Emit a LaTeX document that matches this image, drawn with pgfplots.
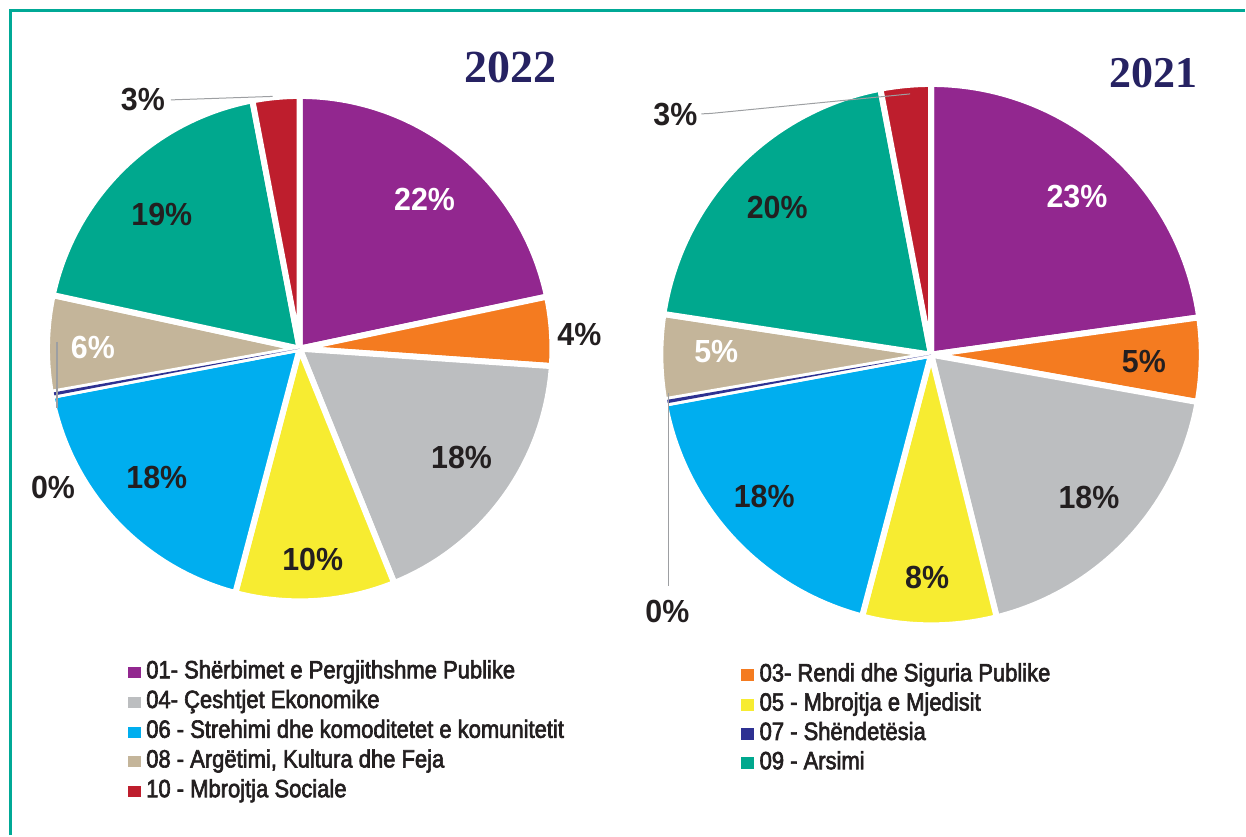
\documentclass[border=0pt]{standalone}
\usepackage{pgfplots}
\usepackage{pgfplotstable}
\pgfplotsset{compat=1.18}
\usepackage{fontspec}
\setmainfont{Liberation Sans}
\newfontfamily\legfont{Liberation Sans}[FakeStretch=0.88, FakeBold=2.5]
\newfontfamily\pctfont{Liberation Sans}[FakeStretch=0.95]
\newfontfamily\titfont{Liberation Serif}

\definecolor{cPurple}{RGB}{146,39,143}
\definecolor{cOrange}{RGB}{244,123,32}
\definecolor{cGray}{RGB}{188,190,192}
\definecolor{cYellow}{RGB}{247,236,49}
\definecolor{cBlue}{RGB}{0,174,239}
\definecolor{cNavy}{RGB}{46,49,146}
\definecolor{cTan}{RGB}{196,181,154}
\definecolor{cTeal}{RGB}{0,168,142}
\definecolor{cRed}{RGB}{190,30,45}
\definecolor{cBorder}{RGB}{0,169,150}
\definecolor{cTitle}{RGB}{38,34,98}
\definecolor{cText}{RGB}{35,31,32}
\definecolor{cLeader}{RGB}{157,159,162}

% 2022 shares (percent), clockwise from 12 o'clock
\pgfplotstableread{
pct col
21.7 cPurple
4.4 cOrange
17.8 cGray
10.2 cYellow
17.9 cBlue
0.2 cNavy
6.2 cTan
18.6 cTeal
3.0 cRed
}\pieA
% 2021 shares (percent)
\pgfplotstableread{
pct col
22.8 cPurple
5.0 cOrange
18.3 cGray
8.0 cYellow
18.0 cBlue
0.2 cNavy
5.1 cTan
19.6 cTeal
3.0 cRed
}\pieB

% #1 table, #2 cx, #3 cy, #4 radius (image pixel units, y downwards)
\newcommand\drawpie[4]{%
  \pgfplotstablegetrowsof{#1}%
  \pgfmathtruncatemacro\lastrow{\pgfplotsretval-1}%
  \gdef\cum{0}%
  \foreach \i in {0,...,\lastrow}{%
    \pgfplotstablegetelem{\i}{pct}\of{#1}\let\slicep\pgfplotsretval
    \pgfplotstablegetelem{\i}{col}\of{#1}\let\slicecol\pgfplotsretval
    \pgfmathsetmacro\sA{90-3.6*\cum}%
    \pgfmathsetmacro\sB{90-3.6*(\cum+\slicep)}%
    \pgfmathsetmacro\newcum{\cum+\slicep}\xdef\cum{\newcum}%
    \edef\doslice{\noexpand\addplot[fill=\slicecol, draw=white, line width=3pt, line join=round, domain=\sB:\sA, samples=60] ({#2+#4*cos(x)},{#3-#4*sin(x)}) -- (axis cs:#2,#3) -- cycle;}%
    \doslice
  }%
  \gdef\cum{0}%
  \foreach \i in {0,...,\lastrow}{%
    \pgfplotstablegetelem{\i}{pct}\of{#1}\let\slicep\pgfplotsretval
    \pgfplotstablegetelem{\i}{col}\of{#1}\let\slicecol\pgfplotsretval
    \pgfmathsetmacro\sA{90-3.6*\cum}%
    \pgfmathsetmacro\sB{90-3.6*(\cum+\slicep)}%
    \pgfmathsetmacro\newcum{\cum+\slicep}\xdef\cum{\newcum}%
    \ifdim\slicep pt<1pt
      \edef\doslice{\noexpand\addplot[fill=\slicecol, draw=none, domain=\sB:\sA, samples=5] ({#2+(#4-3)*cos(x)},{#3-(#4-3)*sin(x)}) -- (axis cs:#2,#3) -- cycle;}%
      \doslice
    \fi
  }%
}

\begin{document}
\begin{tikzpicture}
\begin{axis}[width=623pt, height=418pt, scale only axis,
  xmin=0, xmax=1246, ymin=0, ymax=836, y dir=reverse,
  hide axis, clip=false]
\path (axis cs:0,0) rectangle (axis cs:1246,836);
% frame
\draw[cBorder, line width=1.25pt] (axis cs:10.5,836) -- (axis cs:10.5,10.5) -- (axis cs:1246,10.5);

\drawpie{\pieA}{300}{349}{253}
\drawpie{\pieB}{932}{355}{271}

% titles
\node[text=cTitle, font=\titfont\bfseries\fontsize{23}{26}\selectfont] at (axis cs:511,68) {2022};
\node[text=cTitle, font=\titfont\bfseries\fontsize{22}{26}\selectfont] at (axis cs:1155,73) {2021};

% leader lines
\draw[cLeader, line width=0.5pt] (axis cs:171,100) -- (axis cs:273,96.5);
\draw[cLeader, line width=0.6pt] (axis cs:57,342) -- (axis cs:57,408);
\draw[cLeader, line width=0.5pt] (axis cs:702,114) -- (axis cs:712,113.5) -- (axis cs:911,94);
\draw[cLeader, line width=0.6pt] (axis cs:669,393) -- (axis cs:669,587);

% percentage labels 2022
\begin{scope}[every node/.style={font=\pctfont\bfseries\fontsize{16}{19}\selectfont, text=cText, inner sep=0}]
\node[text=white] at (axis cs:425,200) {22\%};
\node at (axis cs:580,335) {4\%};
\node at (axis cs:462,458) {18\%};
\node at (axis cs:313,560) {10\%};
\node at (axis cs:157,478) {18\%};
\node at (axis cs:53,488) {0\%};
\node[text=white] at (axis cs:93,348) {6\%};
\node at (axis cs:162,215) {19\%};
\node at (axis cs:143,100) {3\%};
% 2021
\node[text=white] at (axis cs:1078,197) {23\%};
\node at (axis cs:1145,362) {5\%};
\node at (axis cs:1090,498) {18\%};
\node at (axis cs:928,578) {8\%};
\node at (axis cs:765,497) {18\%};
\node at (axis cs:668,612) {0\%};
\node[text=white] at (axis cs:717,352) {5\%};
\node at (axis cs:778,208) {20\%};
\node at (axis cs:676,115) {3\%};
\end{scope}

% legend
\begin{scope}[every node/.style={font=\legfont\fontsize{12.5}{14}\selectfont, text=cText, inner sep=0, anchor=base west}]
\fill[cPurple] (axis cs:128,668) rectangle (axis cs:141,679);
\node at (axis cs:146,679) {01- Shërbimet e Pergjithshme Publike};
\fill[cGray] (axis cs:128,697.7) rectangle (axis cs:141,708.7);
\node at (axis cs:146,708.7) {04- Çeshtjet Ekonomike};
\fill[cBlue] (axis cs:128,727.5) rectangle (axis cs:141,738.5);
\node at (axis cs:146,738.5) {06 - Strehimi dhe komoditetet e komunitetit};
\fill[cTan] (axis cs:128,757.2) rectangle (axis cs:141,768.2);
\node at (axis cs:146,768.2) {08 - Argëtimi, Kultura dhe Feja};
\fill[cRed] (axis cs:128,787) rectangle (axis cs:141,798);
\node at (axis cs:146,798) {10 - Mbrojtja Sociale};

\fill[cOrange] (axis cs:742,670) rectangle (axis cs:755,682);
\node at (axis cs:760,682) {03- Rendi dhe Siguria Publike};
\fill[cYellow] (axis cs:742,699.3) rectangle (axis cs:755,711.3);
\node at (axis cs:760,711.3) {05 - Mbrojtja e Mjedisit};
\fill[cNavy] (axis cs:742,728.7) rectangle (axis cs:755,740.7);
\node at (axis cs:760,740.7) {07 - Shëndetësia};
\fill[cTeal] (axis cs:742,758) rectangle (axis cs:755,770);
\node at (axis cs:760,770) {09 - Arsimi};
\end{scope}
\end{axis}
\end{tikzpicture}
\end{document}
